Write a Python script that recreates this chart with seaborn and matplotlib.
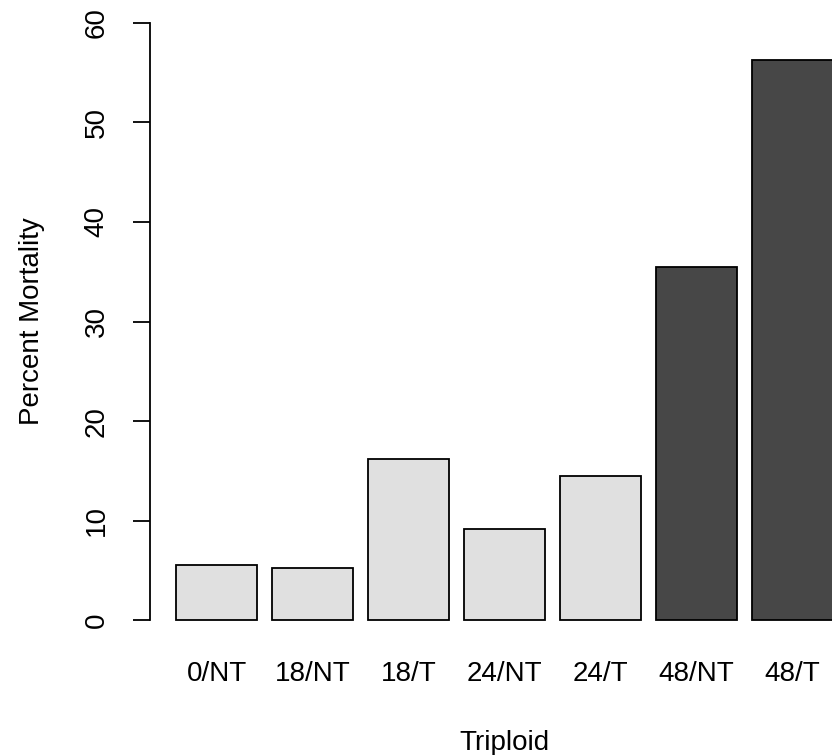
import matplotlib
matplotlib.use("Agg")
import matplotlib.pyplot as plt
import seaborn as sns
import pandas as pd

categories = ["0/NT", "18/NT", "18/T", "24/NT", "24/T", "48/NT", "48/T"]
mortality = [5.55, 5.3, 16.15, 9.15, 14.45, 35.5, 56.3]
groups = ["light", "light", "light", "light", "light", "dark", "dark"]
y_ticks = [0, 10, 20, 30, 40, 50, 60]

sns.set_style("white")
plt.rcParams["font.family"] = ["Liberation Sans", "DejaVu Sans"]
plt.rcParams["text.color"] = "black"
plt.rcParams["axes.labelcolor"] = "black"
plt.rcParams["xtick.color"] = "black"
plt.rcParams["ytick.color"] = "black"

df = pd.DataFrame({"cat": categories, "val": mortality, "grp": groups})
palette = {"light": "#e0e0e0", "dark": "#474747"}

W, H = 832, 755
fig = plt.figure(figsize=(W / 100, H / 100), dpi=100)
left_px, right_px = 150, 858
y0_px, y60_px = 620.3, 22.7
ppu = (y0_px - y60_px) / 60.0
ylo, yhi = -2.4, 62.4
bottom_px = y0_px + (0 - ylo) * ppu
top_px = y60_px - (yhi - 60) * ppu
ax = fig.add_axes([left_px / W, 1 - bottom_px / H,
                   (right_px - left_px) / W, (bottom_px - top_px) / H])

sns.barplot(data=df, x="cat", y="val", hue="grp", palette=palette,
            order=categories, dodge=False, width=0.84, edgecolor="black",
            linewidth=1.3, legend=False, ax=ax)

ppx = 96.0
c0 = 216.5
ax.set_xlim((left_px - c0) / ppx, (right_px - c0) / ppx)
ax.set_ylim(ylo, yhi)

for s in ["top", "right", "bottom"]:
    ax.spines[s].set_visible(False)
ax.spines["left"].set_bounds(0, 60)
ax.spines["left"].set_linewidth(1.3)
ax.spines["left"].set_color("black")

fs = 20
ax.set_yticks(y_ticks)
ax.set_yticklabels([str(t) for t in y_ticks], rotation=90, va="center",
                   fontsize=fs)
ax.tick_params(axis="y", length=12, width=1.3, color="black", pad=17,
               left=True)
ax.tick_params(axis="x", length=0, pad=12, labelsize=fs)
ax.set_xlabel("Triploid", fontsize=fs, labelpad=31)
ax.set_ylabel("Percent Mortality", fontsize=fs, labelpad=28)

fig.savefig("out.png", dpi=100)
